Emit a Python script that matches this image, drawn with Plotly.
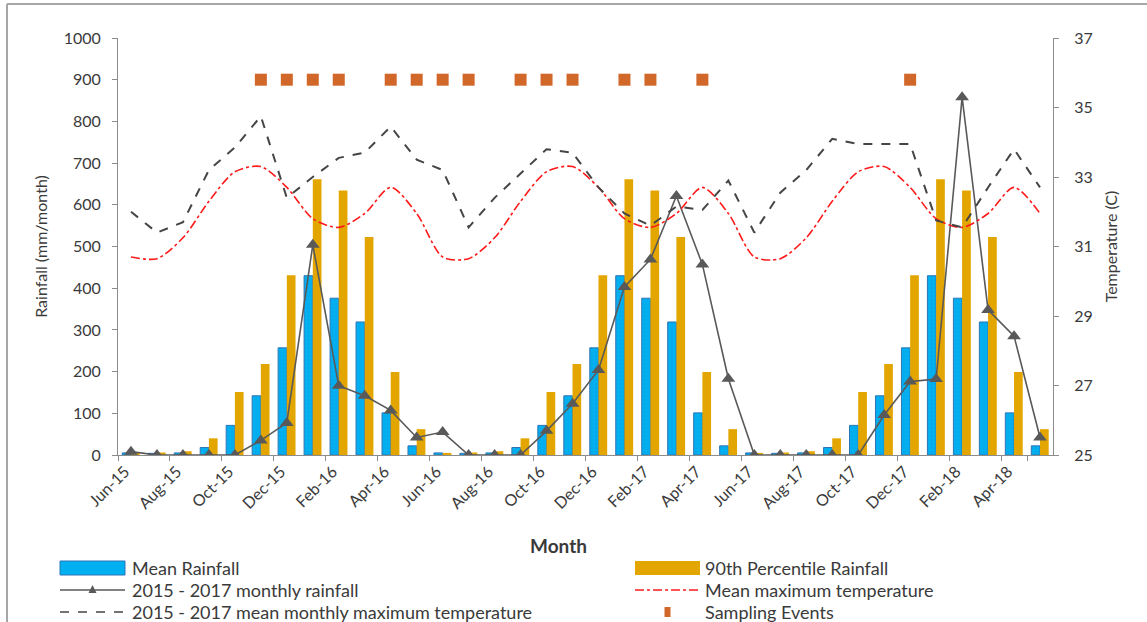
import plotly.graph_objects as go

# ---- data -------------------------------------------------------------
months = ["Jun-15", "Jul-15", "Aug-15", "Sep-15", "Oct-15", "Nov-15", "Dec-15",
          "Jan-16", "Feb-16", "Mar-16", "Apr-16", "May-16", "Jun-16", "Jul-16",
          "Aug-16", "Sep-16", "Oct-16", "Nov-16", "Dec-16", "Jan-17", "Feb-17",
          "Mar-17", "Apr-17", "May-17", "Jun-17", "Jul-17", "Aug-17", "Sep-17",
          "Oct-17", "Nov-17", "Dec-17", "Jan-18", "Feb-18", "Mar-18", "Apr-18",
          "May-18"]

mean_rainfall = [5, 4, 5, 18, 71, 142, 257, 430, 376, 319, 101, 22,
                 5, 4, 5, 18, 71, 142, 257, 430, 376, 319, 101, 22,
                 5, 4, 5, 18, 71, 142, 257, 430, 376, 319, 101, 22]

p90_rainfall = [5, 6, 9, 40, 151, 218, 431, 661, 634, 523, 199, 62,
                5, 6, 9, 40, 151, 218, 431, 661, 634, 523, 199, 62,
                5, 6, 9, 40, 151, 218, 431, 661, 634, 523, 199, 62]

monthly_rainfall = [8, 0, 0, 0, 0, 35, 77, 504, 166, 142, 107, 42,
                    55, 0, 0, 0, 58, 123, 204, 403, 469, 621, 457, 183,
                    0, 0, 0, 0, 0, 96, 176, 182, 858, 348, 285, 42]

mean_max_temp = [30.7, 30.65, 31.25, 32.3, 33.15, 33.3, 32.7, 31.8, 31.55, 31.95, 32.7, 31.95,
                 30.7, 30.65, 31.25, 32.3, 33.15, 33.3, 32.7, 31.8, 31.55, 31.95, 32.7, 31.95,
                 30.7, 30.65, 31.25, 32.3, 33.15, 33.3, 32.7, 31.8, 31.55, 31.95, 32.7, 31.95]

monthly_max_temp = [32.0, 31.4, 31.7, 33.2, 33.85, 34.75, 32.4, 33.0, 33.55, 33.7, 34.45, 33.5,
                    33.2, 31.55, 32.4, 33.1, 33.8, 33.7, 32.7, 31.95, 31.6, 32.15, 32.05, 32.9,
                    31.4, 32.55, 33.2, 34.1, 33.95, 33.95, 33.95, 31.75, 31.55, 32.7, 33.8, 32.7]

sampling_months = ["Nov-15", "Dec-15", "Jan-16", "Feb-16", "Apr-16", "May-16",
                   "Jun-16", "Jul-16", "Sep-16", "Oct-16", "Nov-16", "Jan-17",
                   "Feb-17", "Apr-17", "Dec-17"]
sampling_level = [900, 900, 900, 900, 900, 900, 900, 900,
                  900, 900, 900, 900, 900, 900, 900]

tick_months = months[::2]

# ---- styling ----------------------------------------------------------
FONT = "Lato"
TEXT = "#3a3a3a"
AXIS = "#8c8c8c"
BLUE = "#00B0F0"
BLUE_EDGE = "#2E75B6"
GOLD = "#E3A600"
GREY = "#595959"
DASH = "#454545"
RED = "#FF1A1A"
ORANGE = "#D2672A"

W, H = 1147, 622
L, R, T, B = 118, 1053, 38, 455   # plot area in pixels


def px(x):
    return (x - L) / (R - L)


def py(y):
    return (B - y) / (B - T)


fig = go.Figure()

fig.add_trace(go.Bar(
    x=months, y=mean_rainfall, name="Mean Rainfall",
    marker=dict(color=BLUE, line=dict(color=BLUE_EDGE, width=1),
                pattern=dict(shape=".", fgcolor="#1F8FD0", size=4, solidity=0.15)),
    showlegend=False))
fig.add_trace(go.Bar(
    x=months, y=p90_rainfall, name="90th Percentile Rainfall",
    marker=dict(color=GOLD, line=dict(width=0)), showlegend=False))

fig.add_trace(go.Scatter(
    x=months, y=mean_max_temp, name="Mean maximum temperature", yaxis="y2",
    mode="lines", line=dict(color=RED, width=1.6, dash="dashdot", shape="spline",
                            smoothing=0.8),
    showlegend=False))
fig.add_trace(go.Scatter(
    x=months, y=monthly_max_temp, name="2015 - 2017 mean monthly maximum temperature",
    yaxis="y2", mode="lines", line=dict(color=DASH, width=2, dash="dash"),
    showlegend=False))
fig.add_trace(go.Scatter(
    x=months, y=monthly_rainfall, name="2015 - 2017 monthly rainfall",
    mode="lines+markers", line=dict(color=GREY, width=1.6),
    marker=dict(symbol="triangle-up", size=12, color=GREY), showlegend=False))
fig.add_trace(go.Scatter(
    x=sampling_months, y=sampling_level, name="Sampling Events", mode="markers",
    marker=dict(symbol="square", size=12, color=ORANGE), showlegend=False))

# ---- legend (two columns under the axis) -------------------------------
shapes = []
annotations = []

rows = [568, 590, 612]
c1_sym, c1_txt = (60, 125), 130
c2_sym, c2_txt = (635, 700), 703

shapes.append(dict(type="rect", xref="paper", yref="paper",
                   x0=px(c1_sym[0]), x1=px(c1_sym[1]), y0=py(rows[0] + 7), y1=py(rows[0] - 7),
                   fillcolor=BLUE, line=dict(color=BLUE_EDGE, width=1)))
shapes.append(dict(type="rect", xref="paper", yref="paper",
                   x0=px(c2_sym[0]), x1=px(c2_sym[1]), y0=py(rows[0] + 7), y1=py(rows[0] - 7),
                   fillcolor=GOLD, line=dict(width=0)))
shapes.append(dict(type="line", xref="paper", yref="paper",
                   x0=px(c1_sym[0]), x1=px(c1_sym[1]), y0=py(rows[1]), y1=py(rows[1]),
                   line=dict(color=GREY, width=1.6)))
cx = (c1_sym[0] + c1_sym[1]) / 2
shapes.append(dict(type="path", xref="paper", yref="paper",
                   path="M {:.5f},{:.5f} L {:.5f},{:.5f} L {:.5f},{:.5f} Z".format(
                       px(cx - 4), py(rows[1] + 3), px(cx + 4), py(rows[1] + 3),
                       px(cx), py(rows[1] - 5)),
                   fillcolor=GREY, line=dict(width=0)))
shapes.append(dict(type="line", xref="paper", yref="paper",
                   x0=px(c2_sym[0]), x1=px(c2_sym[1]), y0=py(rows[1]), y1=py(rows[1]),
                   line=dict(color=RED, width=1.6, dash="dashdot")))
shapes.append(dict(type="line", xref="paper", yref="paper",
                   x0=px(c1_sym[0]), x1=px(c1_sym[1]), y0=py(rows[2]), y1=py(rows[2]),
                   line=dict(color=DASH, width=1.6, dash="dash")))
cx2 = (c2_sym[0] + c2_sym[1]) / 2
shapes.append(dict(type="rect", xref="paper", yref="paper",
                   x0=px(cx2 - 3), x1=px(cx2 + 3), y0=py(rows[2] + 5), y1=py(rows[2] - 5),
                   fillcolor=ORANGE, line=dict(width=0)))

legend_text = [("Mean Rainfall", c1_txt, rows[0]),
               ("90th Percentile Rainfall", c2_txt, rows[0]),
               ("2015 - 2017 monthly rainfall", c1_txt, rows[1]),
               ("Mean maximum temperature", c2_txt, rows[1]),
               ("2015 - 2017 mean monthly maximum temperature", c1_txt, rows[2]),
               ("Sampling Events", c2_txt, rows[2])]
for txt, x, y in legend_text:
    annotations.append(dict(text=txt, xref="paper", yref="paper", x=px(x), y=py(y),
                            xanchor="left", yanchor="middle", showarrow=False,
                            font=dict(family=FONT, size=18, color=TEXT)))

annotations.append(dict(text="<b>Month</b>", xref="paper", yref="paper",
                        x=px(558), y=py(545), xanchor="center", yanchor="middle",
                        showarrow=False, font=dict(family=FONT, size=19, color=TEXT)))

# chart frame: top and left edges of the chart area border
FRAME = "#a6a6a6"
shapes.append(dict(type="line", xref="paper", yref="paper",
                   x0=px(7), x1=px(W), y0=py(4), y1=py(4),
                   line=dict(color=FRAME, width=2), layer="below"))
shapes.append(dict(type="line", xref="paper", yref="paper",
                   x0=px(7), x1=px(7), y0=py(4), y1=py(H),
                   line=dict(color=FRAME, width=2), layer="below"))

fig.update_layout(
    width=W, height=H,
    margin=dict(l=L, r=W - R, t=T, b=H - B),
    paper_bgcolor="white", plot_bgcolor="white",
    barmode="group", bargap=0.33, bargroupgap=0,
    font=dict(family=FONT, size=16, color=TEXT),
    shapes=shapes, annotations=annotations,
    xaxis=dict(type="category", categoryorder="array", categoryarray=months,
               tickmode="array", tickvals=tick_months, ticktext=tick_months,
               tickson="boundaries", ticks="outside", ticklen=5, tickcolor=AXIS,
               tickangle=-45, showline=True, linecolor=AXIS, linewidth=1,
               showgrid=False, zeroline=False, range=[-0.5, 35.5],
               ticklabelshift=-6,
               tickfont=dict(family=FONT, size=16, color=TEXT)),
    yaxis=dict(range=[0, 1000], dtick=100, ticks="outside", ticklen=5,
               tickcolor=AXIS, showline=True, linecolor=AXIS, linewidth=1,
               showgrid=False, zeroline=False, ticklabelstandoff=8,
               title=dict(text="Rainfall (mm/month)", standoff=12,
                          font=dict(family=FONT, size=16, color=TEXT)),
               tickfont=dict(family=FONT, size=16, color=TEXT)),
    yaxis2=dict(range=[25, 37], tick0=25, dtick=2, overlaying="y", side="right",
                ticks="outside", ticklen=5, tickcolor=AXIS, showline=True,
                linecolor=AXIS, linewidth=1, showgrid=False, zeroline=False,
                ticklabelstandoff=12,
                title=dict(text="Temperature (C)", standoff=14,
                           font=dict(family=FONT, size=16, color=TEXT)),
                tickfont=dict(family=FONT, size=16, color=TEXT)),
)

fig.write_html("out.html")
